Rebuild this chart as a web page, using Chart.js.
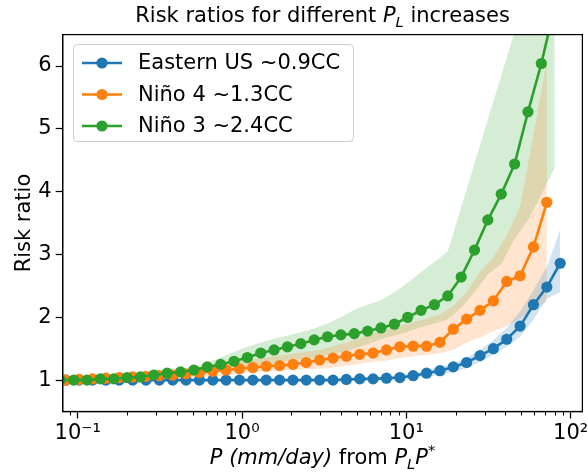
<!DOCTYPE html>
<html>
<head>
<meta charset="utf-8">
<script src="https://cdn.jsdelivr.net/npm/chart.js@4.4.0/dist/chart.umd.min.js"></script>
<style>
html, body { margin: 0; padding: 0; background: #fff; }
canvas { display: block; }
</style>
</head>
<body>
<canvas id="chart" width="588" height="474"></canvas>
<script>
// x positions (mm/day) – Eastern US and Niño 4 share a grid, Niño 3 has its own
const xEast = [0.0846, 0.102, 0.123, 0.1483, 0.1789, 0.2158, 0.2602, 0.3138, 0.3785, 0.4564,
  0.5504, 0.6637, 0.8002, 0.9652, 1.164, 1.404, 1.693, 2.041, 2.462, 2.969,
  3.58, 4.318, 5.207, 6.28, 7.573, 9.134, 11.01, 13.28, 16.02, 19.32,
  23.3, 28.09, 33.88, 40.86, 49.28, 59.43, 71.67, 86.44];
const xNino4 = xEast.slice(0, 37);
const xNino3 = [0.0783, 0.0945, 0.1139, 0.1373, 0.1657, 0.1998, 0.2409, 0.2906, 0.3505, 0.4226,
  0.5097, 0.6146, 0.741, 0.8938, 1.078, 1.300, 1.568, 1.890, 2.280, 2.749,
  3.315, 3.998, 4.822, 5.815, 7.013, 8.458, 10.20, 12.30, 14.83, 17.89,
  21.58, 26.01, 31.37, 37.84, 45.63, 55.03, 66.37, 80.04];

// risk ratios
const rrEast = [1.00, 1.00, 1.00, 1.00, 1.00, 1.00, 1.00, 1.00, 1.00, 1.00,
  1.00, 1.00, 1.00, 1.00, 1.00, 1.00, 1.00, 1.00, 1.00, 1.00,
  1.00, 1.01, 1.02, 1.02, 1.03, 1.04, 1.07, 1.11, 1.15, 1.21,
  1.28, 1.39, 1.50, 1.65, 1.86, 2.20, 2.48, 2.86];
const rrNino4 = [1.00, 1.01, 1.02, 1.03, 1.04, 1.05, 1.06, 1.07, 1.08, 1.10,
  1.12, 1.14, 1.16, 1.18, 1.20, 1.22, 1.23, 1.25, 1.28, 1.32,
  1.35, 1.38, 1.41, 1.43, 1.48, 1.53, 1.54, 1.54, 1.60, 1.81,
  1.97, 2.11, 2.26, 2.57, 2.66, 3.12, 3.83];
const rrNino3 = [1.00, 1.00, 1.00, 1.02, 1.02, 1.04, 1.05, 1.08, 1.11, 1.13,
  1.16, 1.21, 1.25, 1.30, 1.36, 1.43, 1.48, 1.53, 1.58, 1.64,
  1.69, 1.72, 1.74, 1.78, 1.83, 1.89, 2.00, 2.11, 2.20, 2.34,
  2.64, 3.07, 3.55, 3.96, 4.44, 5.27, 6.04, 6.95];

// uncertainty ranges
const loEast = [0.98, 0.98, 0.98, 0.98, 0.98, 0.98, 0.98, 0.98, 0.98, 0.98,
  0.98, 0.98, 0.98, 0.98, 0.98, 0.98, 0.98, 0.98, 0.98, 0.98,
  0.98, 0.99, 0.99, 1.00, 1.00, 1.01, 1.03, 1.05, 1.08, 1.13,
  1.19, 1.29, 1.40, 1.53, 1.69, 1.96, 2.30, 2.40];
const hiEast = [1.02, 1.02, 1.02, 1.02, 1.02, 1.02, 1.02, 1.02, 1.02, 1.02,
  1.02, 1.02, 1.02, 1.02, 1.02, 1.02, 1.02, 1.02, 1.02, 1.02,
  1.03, 1.03, 1.04, 1.05, 1.06, 1.08, 1.11, 1.16, 1.21, 1.27,
  1.35, 1.48, 1.64, 1.83, 2.09, 2.43, 2.80, 3.40];
const loNino4 = [0.98, 0.98, 0.99, 0.99, 1.00, 1.00, 1.01, 1.01, 1.02, 1.03,
  1.04, 1.06, 1.08, 1.11, 1.13, 1.14, 1.15, 1.16, 1.17, 1.18,
  1.20, 1.23, 1.26, 1.29, 1.31, 1.35, 1.38, 1.40, 1.43, 1.48,
  1.60, 1.68, 1.78, 1.86, 1.98, 2.12, 2.25];
const hiNino4 = [1.02, 1.03, 1.04, 1.05, 1.06, 1.08, 1.10, 1.12, 1.14, 1.17,
  1.20, 1.23, 1.27, 1.30, 1.33, 1.36, 1.39, 1.42, 1.45, 1.48,
  1.54, 1.60, 1.67, 1.74, 1.80, 1.86, 1.92, 1.98, 2.05, 2.18,
  2.40, 2.72, 2.95, 3.30, 3.75, 4.90, 6.10];
const loNino3 = [0.98, 0.98, 0.99, 0.99, 1.00, 1.00, 1.01, 1.02, 1.03, 1.05,
  1.08, 1.12, 1.16, 1.19, 1.21, 1.24, 1.27, 1.30, 1.33, 1.36,
  1.40, 1.44, 1.50, 1.57, 1.65, 1.71, 1.77, 1.84, 1.90, 1.97,
  2.15, 2.40, 2.68, 2.85, 3.25, 3.55, 3.95, 4.38];
const hiNino3 = [1.03, 1.03, 1.04, 1.05, 1.06, 1.07, 1.08, 1.10, 1.12, 1.15,
  1.20, 1.28, 1.36, 1.45, 1.53, 1.60, 1.66, 1.71, 1.76, 1.82,
  1.90, 2.00, 2.12, 2.20, 2.27, 2.40, 2.55, 2.72, 2.88, 3.05,
  3.75, 4.45, 5.15, 5.85, 6.55, 7.30, 8.10, 8.90];

const seriesNames = ['Eastern US ~0.9CC', 'Niño 4 ~1.3CC', 'Niño 3 ~2.4CC'];
const seriesColors = ['#1f77b4', '#ff7f0e', '#2ca02c'];
const bandColors = ['rgba(31,119,180,0.2)', 'rgba(255,127,14,0.2)', 'rgba(44,160,44,0.2)'];
const xTicks = [0.1, 1, 10, 100];
const xTickLabels = ['10⁻¹', '10⁰', '10¹', '10²'];
const yTicks = [1, 2, 3, 4, 5, 6];

const FONT = 'DejaVu Sans';
const FS = 21;

function pts(xs, ys) {
    return xs.map((x, i) => ({ x: x, y: ys[i] }));
}

const xs = [xEast, xNino4, xNino3];
const mids = [rrEast, rrNino4, rrNino3];
const los = [loEast, loNino4, loNino3];
const his = [hiEast, hiNino4, hiNino3];

let datasets = [];
// bands first: lower (no fill) then upper filled down to it
for (let i = 0; i < 3; i++) {
    datasets.push({
        data: pts(xs[i], los[i]),
        borderWidth: 0, pointRadius: 0, fill: false,
        order: 10 + i, clip: 0
    });
    datasets.push({
        data: pts(xs[i], his[i]),
        borderWidth: 0, pointRadius: 0,
        fill: datasets.length - 1,
        backgroundColor: bandColors[i],
        order: 10 + i, clip: 0
    });
}
for (let i = 0; i < 3; i++) {
    datasets.push({
        label: seriesNames[i],
        data: pts(xs[i], mids[i]),
        borderColor: seriesColors[i],
        backgroundColor: seriesColors[i],
        borderWidth: 2.6,
        pointRadius: 5.6,
        pointBorderWidth: 0,
        pointBackgroundColor: seriesColors[i],
        fill: false,
        order: 3 - i, clip: 0
    });
}

// mixed italic / sub / superscript text
function drawRuns(ctx, runs, cx, y) {
    let w = 0;
    const parts = runs.map(r => {
        const s = (r.sub || r.sup) ? FS * 0.7 : FS;
        const f = (r.it ? 'italic ' : '') + s + 'px "' + FONT + '"';
        ctx.font = f;
        const pw = ctx.measureText(r.t).width;
        w += pw;
        return { t: r.t, f: f, pw: pw, dy: r.sub ? FS * 0.22 : (r.sup ? -FS * 0.42 : 0) };
    });
    let x = cx - w / 2;
    ctx.textAlign = 'left';
    ctx.textBaseline = 'alphabetic';
    parts.forEach(p => { ctx.font = p.f; ctx.fillText(p.t, x, y + p.dy); x += p.pw; });
}

const decor = {
    id: 'decor',
    afterDraw(chart) {
        const ctx = chart.ctx;
        const a = chart.chartArea;
        const xs = chart.scales.x;
        ctx.save();
        ctx.fillStyle = '#000';
        ctx.strokeStyle = '#000';

        // frame
        ctx.lineWidth = 1.25;
        ctx.strokeRect(a.left, a.top, a.right - a.left, a.bottom - a.top);

        // minor ticks on the log axis
        ctx.lineWidth = 1;
        for (let d = -2; d <= 2; d++) {
            for (let m = 2; m <= 9; m++) {
                const v = m * Math.pow(10, d);
                if (v < xs.min || v > xs.max) continue;
                const px = Math.round(xs.getPixelForValue(v)) + 0.5;
                ctx.beginPath();
                ctx.moveTo(px, a.bottom);
                ctx.lineTo(px, a.bottom + 4);
                ctx.stroke();
            }
        }

        const cx = (a.left + a.right) / 2;
        // title
        drawRuns(ctx, [
            { t: 'Risk ratios for different ' },
            { t: 'P', it: true }, { t: 'L', it: true, sub: true },
            { t: ' increases' }
        ], cx, 22);

        // x label
        drawRuns(ctx, [
            { t: 'P', it: true }, { t: ' ' }, { t: '(mm/day)', it: true },
            { t: ' from ' },
            { t: 'P', it: true }, { t: 'L', it: true, sub: true },
            { t: 'P', it: true }, { t: '*', sup: true }
        ], cx, 464);

        // y label
        ctx.save();
        ctx.translate(30, (a.top + a.bottom) / 2);
        ctx.rotate(-Math.PI / 2);
        ctx.font = FS + 'px "' + FONT + '"';
        ctx.textAlign = 'center';
        ctx.textBaseline = 'alphabetic';
        ctx.fillText('Risk ratio', 0, 0);
        ctx.restore();

        // legend
        const lx = 73.5, ly = 44.5, lw = 280, lh = 97;
        ctx.beginPath();
        ctx.roundRect(lx, ly, lw, lh, 4);
        ctx.fillStyle = 'rgba(255,255,255,0.8)';
        ctx.fill();
        ctx.strokeStyle = '#cccccc';
        ctx.lineWidth = 1;
        ctx.stroke();
        for (let i = 0; i < seriesNames.length; i++) {
            const ry = 63 + i * 31.5;
            ctx.strokeStyle = seriesColors[i];
            ctx.fillStyle = seriesColors[i];
            ctx.lineWidth = 2.6;
            ctx.beginPath();
            ctx.moveTo(82, ry);
            ctx.lineTo(122, ry);
            ctx.stroke();
            ctx.beginPath();
            ctx.arc(102, ry, 5.6, 0, Math.PI * 2);
            ctx.fill();
            ctx.fillStyle = '#000';
            ctx.font = FS + 'px "' + FONT + '"';
            ctx.textAlign = 'left';
            ctx.textBaseline = 'middle';
            ctx.fillText(seriesNames[i], 138, ry + 1);
        }
        ctx.restore();
    }
};

new Chart(document.getElementById('chart'), {
    type: 'line',
    data: { datasets: datasets },
    options: {
        responsive: false,
        animation: false,
        devicePixelRatio: 1,
        layout: { padding: { top: 34.6, right: 4, left: 0, bottom: 0 } },
        plugins: {
            legend: { display: false },
            title: { display: false },
            tooltip: { enabled: false }
        },
        elements: { line: { tension: 0 } },
        scales: {
            x: {
                type: 'logarithmic',
                min: 0.081,
                max: 118,
                grid: { display: true, drawOnChartArea: false, drawTicks: true, tickLength: 7, tickColor: '#000', tickWidth: 1.25 },
                border: { display: true, color: '#000', width: 1.25 },
                afterBuildTicks: s => { s.ticks = xTicks.map(v => ({ value: v })); },
                ticks: {
                    autoSkip: false,
                    maxRotation: 0,
                    color: '#000',
                    padding: 2,
                    font: { family: FONT, size: FS },
                    callback: function (v) {
                        const i = xTicks.indexOf(v);
                        return i >= 0 ? xTickLabels[i] : '';
                    }
                },
                afterFit: s => { s.height = 474 - 411.5; s.paddingLeft = 0; s.paddingRight = 0; }
            },
            y: {
                type: 'linear',
                min: 0.5,
                max: 6.5,
                grid: { display: true, drawOnChartArea: false, drawTicks: true, tickLength: 7, tickColor: '#000', tickWidth: 1.25 },
                border: { display: true, color: '#000', width: 1.25 },
                afterBuildTicks: s => { s.ticks = yTicks.map(v => ({ value: v })); },
                ticks: {
                    color: '#000',
                    padding: 4,
                    font: { family: FONT, size: FS },
                    callback: v => String(v)
                },
                afterFit: s => { s.width = 62.7; s.paddingTop = 0; s.paddingBottom = 0; }
            }
        }
    },
    plugins: [decor]
});
</script>
</body>
</html>
